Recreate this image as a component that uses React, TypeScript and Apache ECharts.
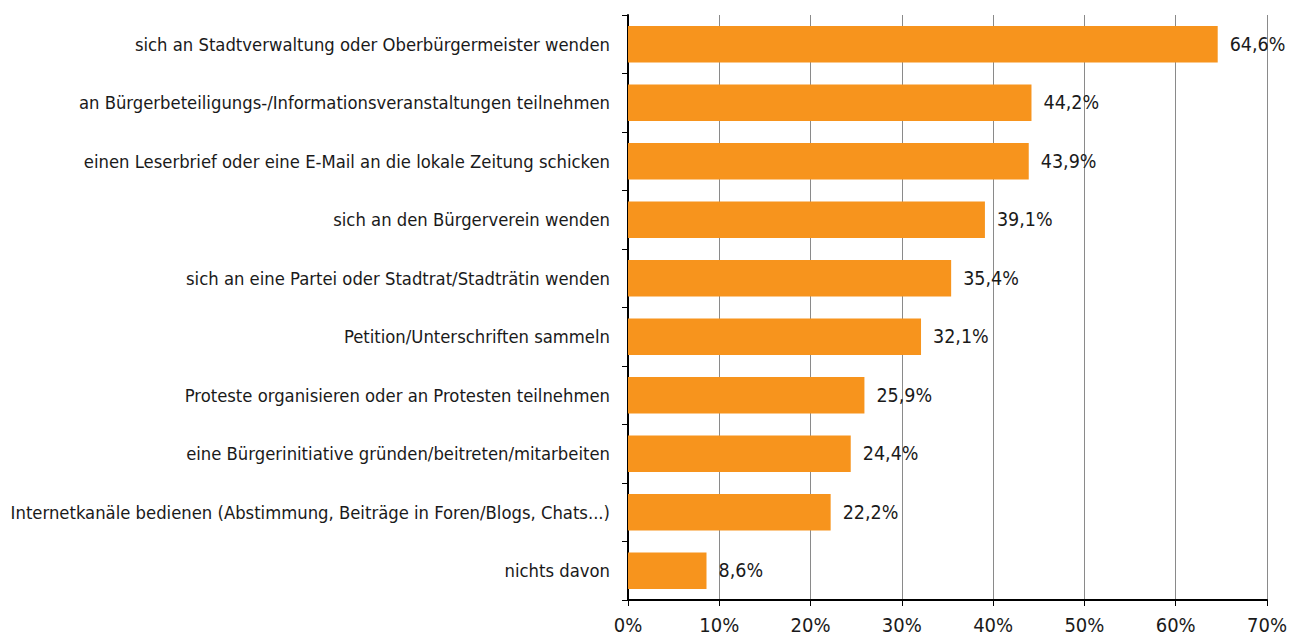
import React, { useEffect, useRef } from "react";
import * as echarts from "echarts";

const categories = [
  "sich an Stadtverwaltung oder Oberbürgermeister wenden",
  "an Bürgerbeteiligungs-/Informationsveranstaltungen teilnehmen",
  "einen Leserbrief oder eine E-Mail an die lokale Zeitung schicken",
  "sich an den Bürgerverein wenden",
  "sich an eine Partei oder Stadtrat/Stadträtin wenden",
  "Petition/Unterschriften sammeln",
  "Proteste organisieren oder an Protesten teilnehmen",
  "eine Bürgerinitiative gründen/beitreten/mitarbeiten",
  "Internetkanäle bedienen (Abstimmung, Beiträge in Foren/Blogs, Chats...)",
  "nichts davon",
];
const values = [64.6, 44.2, 43.9, 39.1, 35.4, 32.1, 25.9, 24.4, 22.2, 8.6];

const FONT = "'DejaVu Sans Condensed', 'Liberation Sans Narrow', sans-serif";

export default function App() {
  const ref = useRef<HTMLDivElement>(null);
  useEffect(() => {
    const chart = echarts.init(ref.current!, null, { renderer: "svg" });
    chart.setOption({
      animation: false,
      grid: {
        left: 628,
        right: 24,
        top: 15,
        bottom: 39,
        containLabel: false,
        outerBoundsMode: "none",
      },
      xAxis: {
        type: "value",
        min: 0,
        max: 70,
        interval: 10,
        axisLine: { show: true, lineStyle: { color: "#000", width: 2 } },
        axisTick: { show: true, length: 6, lineStyle: { color: "#000", width: 1 } },
        axisLabel: {
          formatter: "{value}%",
          fontFamily: FONT,
          fontSize: 20,
          color: "#1a1a1a",
          margin: 15,
        },
        splitLine: { show: true, lineStyle: { color: "#8a8a8a", width: 1 } },
      },
      yAxis: {
        type: "category",
        data: categories,
        inverse: true,
        axisLine: { show: true, lineStyle: { color: "#000", width: 2 } },
        axisTick: { show: true, length: 6, alignWithLabel: false, lineStyle: { color: "#000", width: 1 } },
        axisLabel: {
          fontFamily: FONT,
          fontSize: 18.3,
          color: "#1a1a1a",
          margin: 18,
        },
      },
      series: [
        {
          type: "bar",
          data: values,
          barCategoryGap: "38%",
          itemStyle: { color: "#F7941D" },
          label: {
            show: true,
            position: "right",
            distance: 12,
            fontFamily: FONT,
            fontSize: 19.5,
            color: "#1a1a1a",
            formatter: (p: any) => p.value.toFixed(1).replace(".", ",") + "%",
          },
        },
      ],
    });
    return () => chart.dispose();
  }, []);
  return (
    <div
      ref={ref}
      style={{ position: "absolute", left: 0, top: 0, width: 1291, height: 639, background: "#fff" }}
    />
  );
}
